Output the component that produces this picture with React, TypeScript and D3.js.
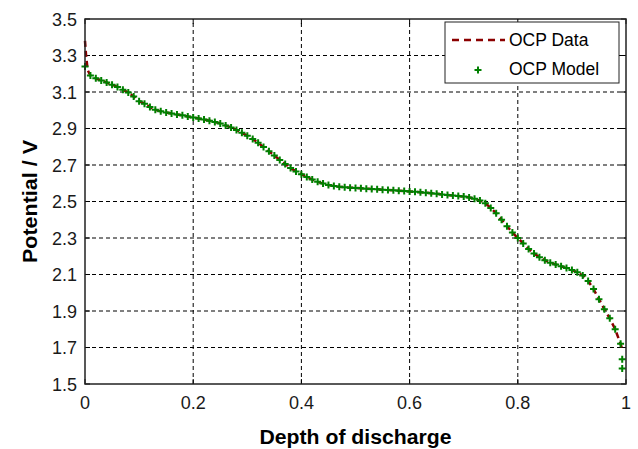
import React from "react";
import * as d3 from "d3";

const dod = [
  0.0, 0.01, 0.02, 0.03, 0.04, 0.05, 0.06, 0.07, 0.08, 0.09,
  0.1, 0.11, 0.12, 0.13, 0.14, 0.15, 0.16, 0.17, 0.18, 0.19,
  0.2, 0.21, 0.22, 0.23, 0.24, 0.25, 0.26, 0.27, 0.28, 0.29,
  0.3, 0.31, 0.32, 0.33, 0.34, 0.35, 0.36, 0.37, 0.38, 0.39,
  0.4, 0.41, 0.42, 0.43, 0.44, 0.45, 0.46, 0.47, 0.48, 0.49,
  0.5, 0.51, 0.52, 0.53, 0.54, 0.55, 0.56, 0.57, 0.58, 0.59,
  0.6, 0.61, 0.62, 0.63, 0.64, 0.65, 0.66, 0.67, 0.68, 0.69,
  0.7, 0.71, 0.72, 0.73, 0.74, 0.75, 0.76, 0.77, 0.78, 0.79,
  0.8, 0.81, 0.82, 0.83, 0.84, 0.85, 0.86, 0.87, 0.88, 0.89,
  0.9, 0.91, 0.92, 0.93, 0.94, 0.95, 0.96, 0.97, 0.98, 0.99,
];

const ocpModel = [
  3.24, 3.19, 3.175, 3.163, 3.152, 3.14, 3.128, 3.113, 3.097, 3.075,
  3.05, 3.035, 3.018, 3.003, 2.994, 2.988, 2.982, 2.977, 2.972, 2.966,
  2.96, 2.955, 2.949, 2.943, 2.936, 2.928, 2.917, 2.905, 2.892, 2.877,
  2.86, 2.842, 2.822, 2.798, 2.775, 2.752, 2.728, 2.705, 2.683, 2.665,
  2.65, 2.634, 2.62, 2.608, 2.598, 2.59, 2.585, 2.581, 2.578, 2.576,
  2.574, 2.572, 2.57, 2.568, 2.567, 2.565, 2.563, 2.561, 2.559, 2.557,
  2.555, 2.553, 2.551, 2.548, 2.545, 2.542, 2.539, 2.536, 2.533, 2.53,
  2.527, 2.522, 2.515, 2.505, 2.49, 2.465, 2.435, 2.4, 2.365, 2.33,
  2.3, 2.27, 2.24, 2.215, 2.195, 2.178, 2.165, 2.155, 2.145, 2.135,
  2.125, 2.112, 2.095, 2.065, 2.02, 1.965, 1.91, 1.86, 1.8, 1.72,
];

// extra model points at the end of discharge
const modelTailX = [0.993, 0.993];
const modelTailY = [1.635, 1.585];

// OCP data: initial spike then same path as the model
const dataHeadX = [0.0, 0.002, 0.005];
const dataHeadY = [3.38, 3.3, 3.22];
const dataTailX = [0.992];
const dataTailY = [1.7];

const xTicks = [0, 0.2, 0.4, 0.6, 0.8, 1];
const yTicks = [1.5, 1.7, 1.9, 2.1, 2.3, 2.5, 2.7, 2.9, 3.1, 3.3, 3.5];

const W = 638;
const H = 449;
const M = { left: 85, right: 12, top: 19, bottom: 65 };

export default function App() {
  const x = d3.scaleLinear().domain([0, 1]).range([M.left, W - M.right]);
  const y = d3.scaleLinear().domain([1.5, 3.5]).range([H - M.bottom, M.top]);

  const dataPts: [number, number][] = [
    ...dataHeadX.map((v, i) => [v, dataHeadY[i]] as [number, number]),
    ...dod.slice(1).map((v, i) => [v, ocpModel[i + 1]] as [number, number]),
    ...dataTailX.map((v, i) => [v, dataTailY[i]] as [number, number]),
  ];
  const modelPts: [number, number][] = [
    ...dod.map((v, i) => [v, ocpModel[i]] as [number, number]),
    ...modelTailX.map((v, i) => [v, modelTailY[i]] as [number, number]),
  ];

  const line = d3
    .line<[number, number]>()
    .x((d) => x(d[0]))
    .y((d) => y(d[1]));

  const x0 = x(0);
  const x1 = x(1);
  const y0 = y(1.5);
  const y1 = y(3.5);
  const plus = (cx: number, cy: number, k: string | number) => (
    <path
      key={k}
      d={`M${cx - 3.5},${cy}H${cx + 3.5}M${cx},${cy - 3.5}V${cy + 3.5}`}
      stroke="#008000"
      strokeWidth={2}
      fill="none"
    />
  );

  return (
    <svg
      width={W}
      height={H}
      style={{ position: "absolute", left: 0, top: 0, background: "#fff" }}
      fontFamily="Arial, 'Liberation Sans', sans-serif"
    >
      <rect x={0} y={0} width={W} height={H} fill="#fff" />
      {/* grid */}
      <g stroke="#000" strokeWidth={1} strokeDasharray="4,3">
        {xTicks.slice(1, -1).map((t) => (
          <line key={"gx" + t} x1={x(t)} x2={x(t)} y1={y0} y2={y1} />
        ))}
        {yTicks.slice(1, -1).map((t) => (
          <line key={"gy" + t} x1={x0} x2={x1} y1={y(t)} y2={y(t)} />
        ))}
      </g>
      {/* tick marks */}
      <g stroke="#000" strokeWidth={1}>
        {xTicks.map((t) => (
          <g key={"tx" + t}>
            <line x1={x(t)} x2={x(t)} y1={y0} y2={y0 - 5} />
            <line x1={x(t)} x2={x(t)} y1={y1} y2={y1 + 5} />
          </g>
        ))}
        {yTicks.map((t) => (
          <g key={"ty" + t}>
            <line x1={x0} x2={x0 + 5} y1={y(t)} y2={y(t)} />
            <line x1={x1} x2={x1 - 5} y1={y(t)} y2={y(t)} />
          </g>
        ))}
      </g>
      {/* data */}
      <path
        d={line(dataPts) || ""}
        fill="none"
        stroke="#8b0000"
        strokeWidth={2.5}
        strokeDasharray="6,4"
      />
      <g>{modelPts.map((d, i) => plus(x(d[0]), y(d[1]), i))}</g>
      {/* box */}
      <rect
        x={x0}
        y={y1}
        width={x1 - x0}
        height={y0 - y1}
        fill="none"
        stroke="#222"
        strokeWidth={1.5}
      />
      {/* tick labels */}
      <g fontSize={18} fill="#1a1a1a">
        {xTicks.map((t) => (
          <text key={"lx" + t} x={x(t)} y={y0 + 25} textAnchor="middle">
            {d3.format("~g")(t)}
          </text>
        ))}
        {yTicks.map((t) => (
          <text key={"ly" + t} x={x0 - 8} y={y(t) + 6.5} textAnchor="end">
            {t.toFixed(1)}
          </text>
        ))}
      </g>
      <text
        x={(x0 + x1) / 2}
        y={444}
        textAnchor="middle"
        fontSize={20}
        fontWeight="bold"
        fill="#000"
        textLength={192}
        lengthAdjust="spacingAndGlyphs"
      >
        Depth of discharge
      </text>
      <text
        transform={`translate(37,${(y0 + y1) / 2}) rotate(-90)`}
        textAnchor="middle"
        fontSize={20}
        fontWeight="bold"
        fill="#000"
        textLength={123}
        lengthAdjust="spacingAndGlyphs"
      >
        Potential / V
      </text>
      {/* legend */}
      <g>
        <rect x={445} y={22} width={174} height={61} fill="#fff" stroke="#222" strokeWidth={1} />
        <line
          x1={452}
          x2={505}
          y1={40}
          y2={40}
          stroke="#8b0000"
          strokeWidth={2.5}
          strokeDasharray="7,5"
        />
        <text x={509} y={46} fontSize={17.5} fill="#000">
          OCP Data
        </text>
        {plus(478, 70, "leg")}
        <text x={509} y={75} fontSize={17.5} fill="#000">
          OCP Model
        </text>
      </g>
    </svg>
  );
}
